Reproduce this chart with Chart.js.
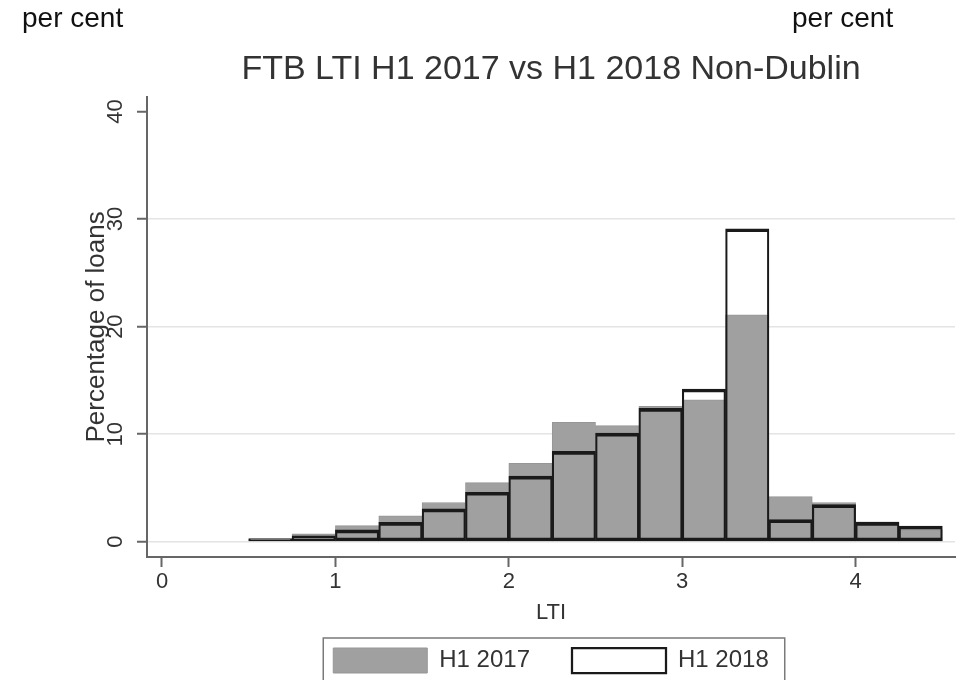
<!DOCTYPE html>
<html>
<head>
<meta charset="utf-8">
<title>FTB LTI H1 2017 vs H1 2018 Non-Dublin</title>
<script src="https://cdn.jsdelivr.net/npm/chart.js@4.4.0/dist/chart.umd.min.js"></script>
<style>
  body { margin: 0; background: #fff; }
  #wrap { position: relative; width: 960px; height: 680px; overflow: hidden; }
  #chart { position: absolute; left: 0; top: 0; }
  .unit { position: absolute; top: 2px; font: 28px "Liberation Sans", Arial, sans-serif; color: #111; }
</style>
</head>
<body>
<div id="wrap">
  <canvas id="chart" width="960" height="680"></canvas>
  <span class="unit" style="left:22px">per cent</span>
  <span class="unit" style="left:792px">per cent</span>
</div>
<script>
// LTI bins of width 0.25, from 0.5 to 4.5 (bin centres)
const binCenters = [0.625, 0.875, 1.125, 1.375, 1.625, 1.875, 2.125, 2.375,
                    2.625, 2.875, 3.125, 3.375, 3.625, 3.875, 4.125, 4.375];
const h1_2017 = [0.2, 0.74, 1.5, 2.4, 3.65, 5.5, 7.3, 11.1,
                 10.8, 12.6, 13.2, 21.1, 4.2, 3.65, 1.85, 1.1];
const h1_2018 = [0.3, 0.56, 1.1, 1.8, 3.05, 4.6, 6.1, 8.4,
                 10.1, 12.4, 14.2, 29.1, 2.05, 3.45, 1.8, 1.45];
const xTicks = [0, 1, 2, 3, 4];
const yTicks = [0, 10, 20, 30, 40];

const FONT = '"Liberation Sans", Arial, sans-serif';
const AXIS = '#666';

const toPoints = (vals) => vals.map((v, i) => ({ x: binCenters[i], y: v }));

// frame round the legend, like the Stata key box
const legendFrame = {
    id: "legendFrame",
    afterDraw(chart) {
        const boxes = chart.legend && chart.legend.legendHitBoxes;
        if (!boxes || !boxes.length) return;
        const first = boxes[0];
        const last = boxes[boxes.length - 1];
        const ctx = chart.ctx;
        ctx.save();
        ctx.strokeStyle = "#7a7a7a";
        ctx.lineWidth = 1.5;
        ctx.strokeRect(first.left - 10, first.top - 10,
                       last.left + last.width - first.left + 26, 70);
        ctx.restore();
    },
};

new Chart(document.getElementById("chart"), {
    type: "bar",
    data: {
        datasets: [
            {
                label: "H1 2017",
                data: toPoints(h1_2017),
                backgroundColor: "#a0a0a0",
                borderColor: "#969696",
                borderWidth: 1,
                borderSkipped: false,
                grouped: false,
                barPercentage: 1,
                categoryPercentage: 1,
                order: 2,
            },
            {
                label: "H1 2018",
                data: toPoints(h1_2018),
                backgroundColor: "rgba(255,255,255,0)",
                borderColor: "#1a1a1a",
                borderWidth: { top: 3, bottom: 3, left: 1.5, right: 1.5 },
                borderSkipped: false,
                grouped: false,
                barPercentage: 1,
                categoryPercentage: 1,
                order: 1,
            },
        ],
    },
    options: {
        responsive: false,
        animation: false,
        devicePixelRatio: 1,
        layout: { padding: { top: 0, left: 0, right: 5, bottom: -3 } },
        scales: {
            x: {
                type: "linear",
                min: -0.0865,
                max: 4.573,
                offset: false,
                afterBuildTicks: (scale) => { scale.ticks = xTicks.map((v) => ({ value: v })); },
                afterFit: (scale) => { scale.height = 49; },
                ticks: { font: { family: FONT, size: 22 }, color: "#333", padding: 2 },
                grid: { offset: false, drawOnChartArea: false, drawTicks: true, tickLength: 10, tickColor: AXIS, tickWidth: 2 },
                border: { color: AXIS, width: 2 },
                title: {
                    display: true,
                    text: "LTI",
                    font: { family: FONT, size: 22 },
                    color: "#333",
                    padding: { top: 0, bottom: -20 },
                },
            },
            y: {
                min: -1.42,
                max: 41.37,
                afterBuildTicks: (scale) => { scale.ticks = yTicks.map((v) => ({ value: v })); },
                afterFit: (scale) => { scale.width = 147; },
                ticks: {
                    font: { family: FONT, size: 22 },
                    color: "#333",
                    padding: 9,
                    minRotation: 90,
                    maxRotation: 90,
                    crossAlign: "center",
                },
                grid: {
                    color: (c) => (c.tick && c.tick.value === 40 ? "rgba(0,0,0,0)" : "#e4e4e4"),
                    lineWidth: 1.5,
                    tickLength: 10,
                    tickColor: AXIS,
                    tickWidth: 2,
                },
                border: { color: AXIS, width: 2 },
                title: {
                    display: true,
                    text: "Percentage of loans",
                    font: { family: FONT, size: 26 },
                    color: "#333",
                    padding: { top: 81, bottom: 0 },
                },
            },
        },
        plugins: {
            title: {
                display: true,
                text: "FTB LTI H1 2017 vs H1 2018 Non-Dublin",
                fullSize: false,
                font: { family: FONT, size: 34, weight: "normal" },
                color: "#333",
                padding: { top: 49, bottom: 7 },
            },
            legend: {
                position: "bottom",
                fullSize: false,
                labels: {
                    boxWidth: 94,
                    boxHeight: 25,
                    padding: 42,
                    font: { family: FONT, size: 24 },
                    color: "#333",
                    sort: (a, b) => a.datasetIndex - b.datasetIndex,
                },
            },
            tooltip: { enabled: false },
        },
    },
    plugins: [legendFrame],
});
</script>
</body>
</html>
